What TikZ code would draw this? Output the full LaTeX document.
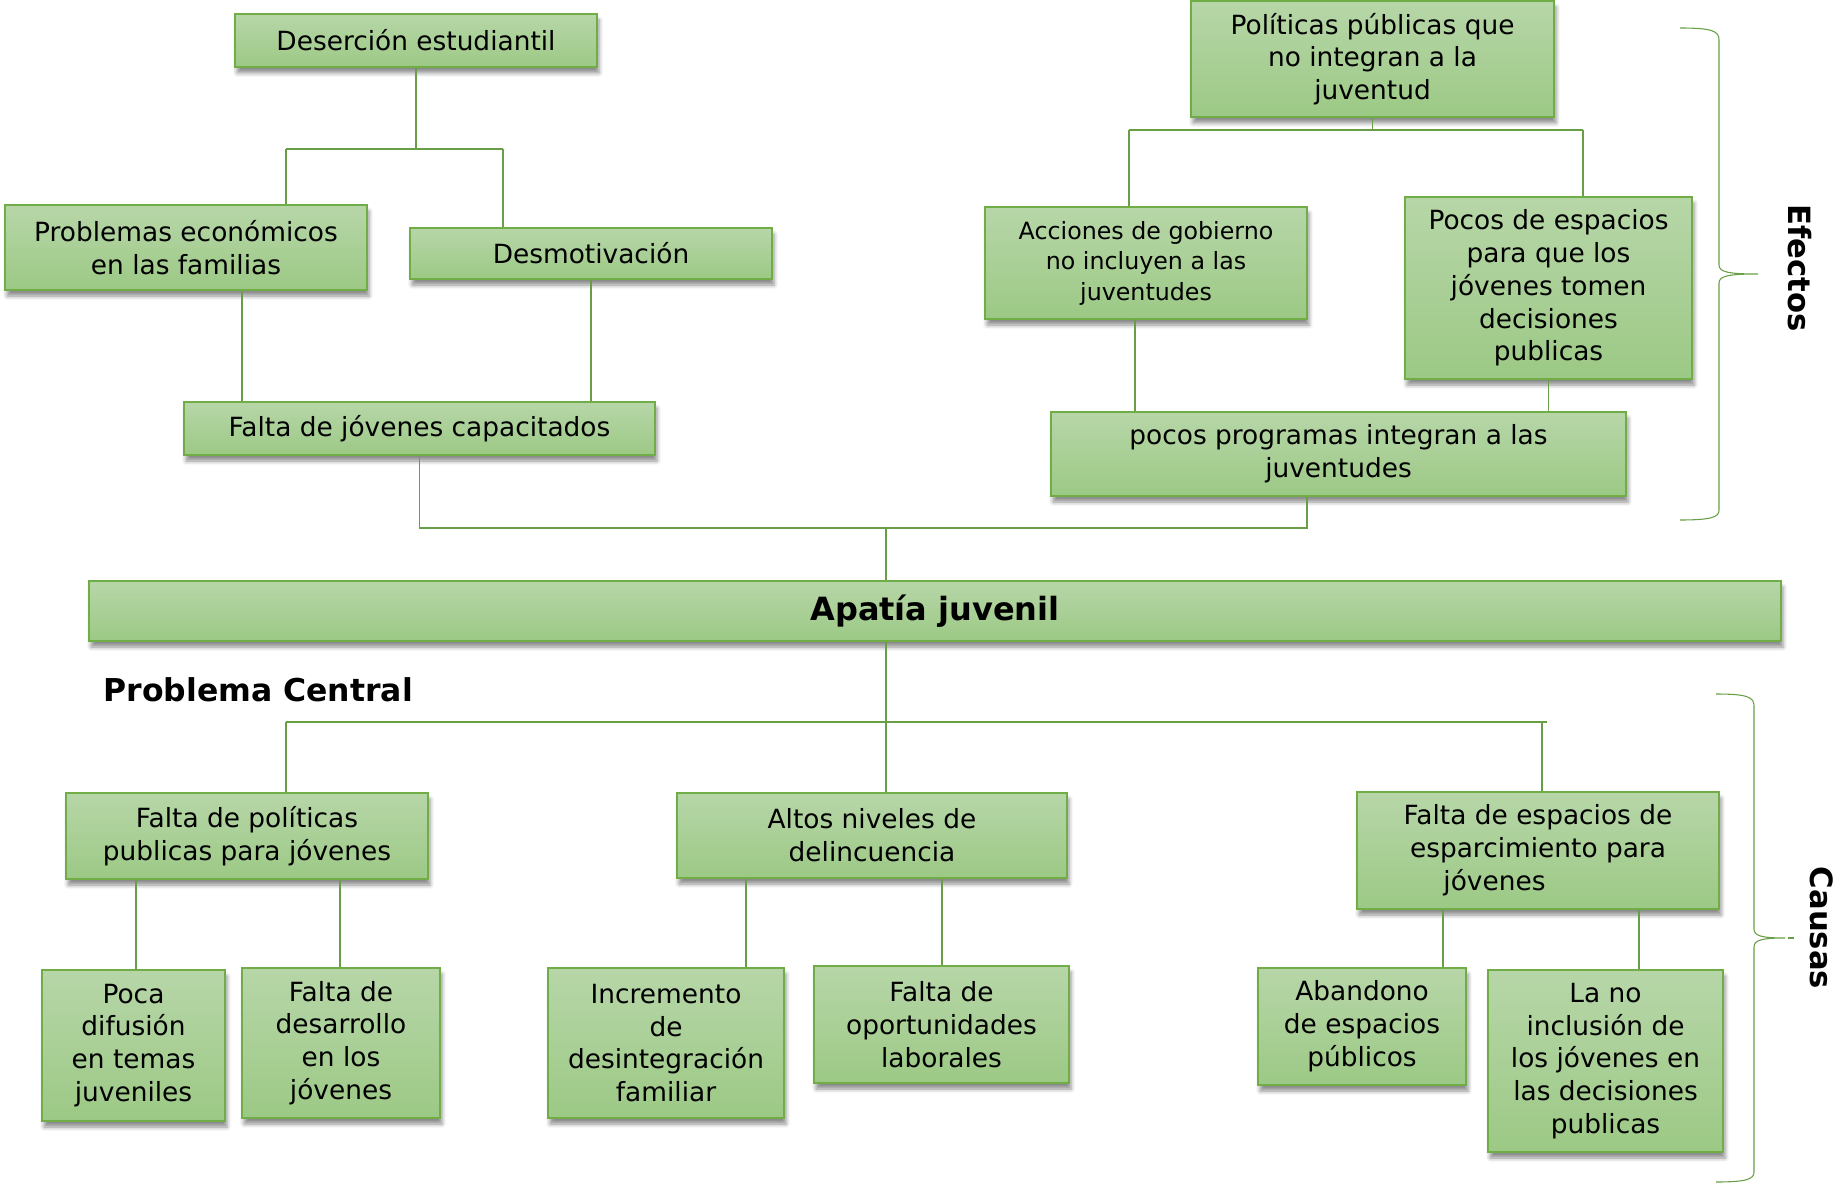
\documentclass[tikz,border=0pt]{standalone}
\usepackage{fontspec}
\setmainfont{DejaVu Sans}
\usetikzlibrary{calc,shadows.blur}
\definecolor{cajaborde}{RGB}{112,173,71}
\definecolor{cajaarriba}{RGB}{183,214,168}
\definecolor{cajaabajo}{RGB}{156,201,133}
\definecolor{lineaverde}{RGB}{104,158,70}

\begin{document}
\begin{tikzpicture}[x=0.75pt,y=-0.75pt,font=\fontsize{19.8}{24.6}\selectfont,
      caja/.style 2 args={draw=cajaborde,line width=1.1pt,top color=cajaarriba,bottom color=cajaabajo,
        align=center,inner sep=2pt,minimum width=#1*0.75pt,minimum height=#2*0.75pt,
        blur shadow={shadow xshift=1.5pt,shadow yshift=-4.5pt,shadow blur radius=3pt,shadow opacity=45}},
      linea/.style={draw=lineaverde,line width=0.8pt},
      llave/.style={draw=lineaverde,line width=0.8pt},
      lado/.style={rotate=-90,font=\fontsize{23}{28}\selectfont\bfseries}]
    \useasboundingbox (0,0) rectangle (1840,1187);

    % efectos
    \node[caja={362}{53}] (des) at (416,40.5) {Deserción estudiantil};
    \node[caja={362}{85}] (eco) at (186,247.5) {Problemas económicos\\en las familias};
    \node[caja={362}{51}] (mot) at (591,253.5) {Desmotivación};
    \node[caja={471}{53}] (cap) at (419.5,428.5) {Falta de jóvenes capacitados};
    \node[caja={363}{116}] (pol) at (1372.5,59) {Políticas públicas que\\no integran a la\\juventud};
    \node[caja={322}{112},font=\fontsize{17.8}{22.9}\selectfont] (acc) at (1146,263) {Acciones de gobierno\\no incluyen a las\\juventudes};
    \node[caja={287}{182}] (esp) at (1548.5,288) {Pocos de espacios\\para que los\\jóvenes tomen\\decisiones\\publicas};
    \node[caja={575}{84}] (prog) at (1338.5,454) {pocos programas integran a las\\juventudes};

    % problema central
    \node[caja={1692}{60},font=\fontsize{24}{29}\selectfont\bfseries] (apa) at (935,611) {Apatía juvenil};
    \node[anchor=west,font=\fontsize{23.6}{28}\selectfont\bfseries] (pc) at (99,690) {Problema Central};

    % causas
    \node[caja={362}{86}] (fpol) at (247,836) {Falta de políticas\\publicas para jóvenes};
    \node[caja={390}{85}] (alt) at (872,835.5) {Altos niveles de\\delincuencia};
    \node[caja={362}{117}] (fesp) at (1538,850.5) {Falta de espacios de\\esparcimiento para\\jóvenes\hspace*{3.3em}};
    \node[caja={183}{151}] (poca) at (133.5,1045.5) {Poca\\difusión\\en temas\\juveniles};
    \node[caja={198}{150}] (fdes) at (341,1043) {Falta de\\desarrollo\\en los\\jóvenes};
    \node[caja={236}{150}] (inc) at (666,1043) {Incremento\\de\\desintegración\\familiar};
    \node[caja={255}{117}] (opo) at (941.5,1024.5) {Falta de\\oportunidades\\laborales};
    \node[caja={208}{117}] (aba) at (1362,1026.5) {Abandono\\de espacios\\públicos};
    \node[caja={235}{182}] (inclu) at (1605.5,1061) {La no\\inclusión de\\los jóvenes en\\las decisiones\\publicas};

    % puntos de las ramas
    \coordinate (bdL) at (286,149);
    \coordinate (bdR) at (503,149);
    \coordinate (bcE) at (1307,528);
    \coordinate (bcM) at (886,528);
    \coordinate (bpL) at (1129,130);
    \coordinate (bpR) at (1583,130);
    \coordinate (bcL) at (286,722);
    \coordinate (bcR) at (1547,722);

    % conectores de efectos
    \draw[linea] (des.south) -- (des.south |- bdL);
    \draw[linea] (bdL) -- (bdR);
    \draw[linea] (bdL) -- (eco.north -| bdL);
    \draw[linea] (bdR) -- (mot.north -| bdR);
    \draw[linea] (eco.south -| 242,0) -- (cap.north -| 242,0);
    \draw[linea] (mot.south) -- (cap.north -| mot.south);
    \draw[linea] (cap.south) |- (bcE) -- (prog.south -| bcE);
    \draw[linea] (bcM) -- (apa.north -| bcM);
    \draw[linea] (pol.south) -- (pol.south |- bpL);
    \draw[linea] (bpL) -- (bpR);
    \draw[linea] (bpL) -- (acc.north -| bpL);
    \draw[linea] (bpR) -- (esp.north -| bpR);
    \draw[linea] (acc.south -| 1135,0) -- (prog.north -| 1135,0);
    \draw[linea] (esp.south) -- (prog.north -| esp.south);

    % conectores de causas
    \draw[linea] (apa.south -| bcM) -- (bcL -| bcM);
    \draw[linea] (bcL) -- (bcR);
    \draw[linea] (bcL) -- (fpol.north -| bcL);
    \draw[linea] (bcR -| 1542,0) -- (fesp.north -| 1542,0);
    \draw[linea] (bcL -| bcM) -- (alt.north -| bcM);
    \foreach \padre/\hijo/\x in {fpol/poca/136,fpol/fdes/340,alt/inc/746,alt/opo/942,fesp/aba/1443,fesp/inclu/1639}
      \draw[linea] (\padre.south -| \x,0) -- (\hijo.north -| \x,0);

    % llaves
    \draw[llave] (1680,28) .. controls (1712,28) and (1719,31) .. (1719,40) -- (1719,265)
      .. controls (1719,272) and (1728,274) .. (1758,274)
      .. controls (1728,274) and (1719,276) .. (1719,283) -- (1719,510)
      .. controls (1719,517) and (1712,520) .. (1680,520);
    \draw[llave] (1716,694) .. controls (1747,694) and (1754,697) .. (1754,706) -- (1754,929)
      .. controls (1754,936) and (1762,938) .. (1785,938)
      .. controls (1762,938) and (1754,940) .. (1754,947) -- (1754,1172)
      .. controls (1754,1179) and (1747,1182) .. (1716,1182);
    \draw[llave] (1788,938) -- (1794,938);
    \node[lado] (efe) at (1800,268) {Efectos};
    \node[lado] (cau) at (1822,928) {Causas};
\end{tikzpicture}
\end{document}
